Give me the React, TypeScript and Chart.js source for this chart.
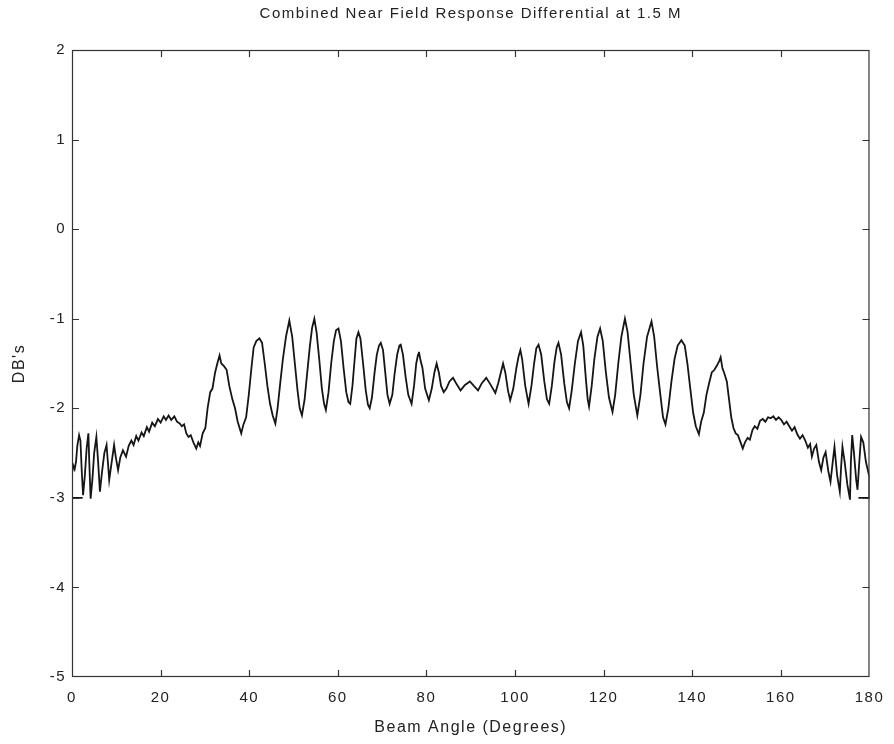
import { useEffect, useRef } from "react";
import { Chart, registerables } from "chart.js";

Chart.register(...registerables);

const chartTitle = "Combined Near Field Response Differential at 1.5 M";
const xAxisTitle = "Beam Angle (Degrees)";
const yAxisTitle = "DB's";

const xTickValues = [0, 20, 40, 60, 80, 100, 120, 140, 160, 180];
const yTickValues = [-5, -4, -3, -2, -1, 0, 1, 2];

// Beam angle (degrees), in drawing order of the trace
const beamAngle = [
  2.4, 0, 0, 0.3, 0.6, 0.9, 1.2, 1.6, 1.9, 2.2, 2.5, 2.9, 3.3, 3.7, 3.9, 4.2, 4.6, 5.0, 5.5, 5.9,
  6.3, 6.8, 7.3, 7.8, 8.1, 8.4, 8.9, 9.5, 9.9, 10.4, 10.9, 11.5, 11.8, 12.2, 12.8, 13.4, 13.9, 14.5, 15.0, 15.7,
  16.2, 16.9, 17.4, 18.1, 18.7, 19.4, 20.0, 20.7, 21.2, 21.8, 22.4, 23.1, 23.7, 24.3, 24.8, 25.3, 25.8, 26.3, 26.8, 27.4,
  28.05, 28.5, 28.9, 29.5, 30.1, 30.6, 31.2, 31.7, 32.3, 32.8, 33.3, 33.7, 34.3, 34.9, 35.5, 36.2, 36.8, 37.4, 38.2, 38.7,
  39.3, 39.9, 40.5, 41.0, 41.6, 42.3, 42.9, 43.5, 44.1, 44.7, 45.3, 45.9, 46.4, 47.0, 47.6, 48.3, 49.05, 49.7, 50.3, 50.9,
  51.4, 51.9, 52.5, 53.1, 53.7, 54.2, 54.7, 55.2, 55.8, 56.4, 56.9, 57.3, 57.9, 58.5, 59.1, 59.6, 60.15, 60.7, 61.3, 61.9,
  62.4, 62.8, 63.3, 63.8, 64.2, 64.65, 65.1, 65.7, 66.3, 66.8, 67.2, 67.7, 68.3, 68.8, 69.3, 69.7, 70.2, 70.7, 71.2, 71.7,
  72.3, 72.8, 73.4, 73.9, 74.2, 74.7, 75.3, 75.9, 76.65, 77.2, 77.7, 78.1, 78.3, 78.6, 79.1, 79.7, 80.55, 81.2, 81.8, 82.3,
  82.8, 83.3, 83.9, 84.5, 85.2, 86.0, 86.8, 87.7, 88.7, 89.8, 90.7, 91.65, 92.5, 93.5, 94.4, 95.55, 96.2, 96.8, 97.3, 97.8,
  98.4, 98.9, 99.6, 100.3, 100.8, 101.2, 101.6, 102.3, 103.05, 103.7, 104.3, 104.8, 105.3, 105.9, 106.6, 107.2, 107.7, 108.3, 108.9, 109.4,
  109.8, 110.4, 111.1, 111.7, 112.2, 112.8, 113.5, 114.2, 114.9, 115.4, 116.0, 116.4, 116.7, 117.3, 117.9, 118.6, 119.2, 119.8, 120.5, 121.2,
  122.0, 122.6, 123.3, 124.0, 124.8, 125.4, 126.1, 126.8, 127.6, 128.3, 129.0, 129.8, 130.8, 131.4, 132.1, 132.8, 133.4, 133.95, 134.6, 135.3,
  136.0, 136.7, 137.55, 138.3, 138.9, 139.6, 140.2, 140.8, 141.5, 142.0, 142.6, 143.2, 143.8, 144.4, 145.0, 145.6, 146.1, 146.4, 146.8, 147.3,
  147.8, 148.3, 148.8, 149.3, 149.8, 150.3, 150.9, 151.4, 151.9, 152.5, 153.0, 153.6, 154.1, 154.7, 155.3, 155.9, 156.5, 157.1, 157.7, 158.3,
  158.9, 159.5, 160.1, 160.7, 161.3, 161.9, 162.5, 163.1, 163.7, 164.3, 164.9, 165.5, 166.1, 166.6, 167.0, 167.5, 168.0, 168.6, 169.1, 169.6,
  170.1, 170.7, 171.2, 171.7, 172.1, 172.7, 173.3, 173.6, 173.9, 174.4, 175.0, 175.6, 175.8, 176.1, 176.5, 177.0, 177.3, 177.7, 178.1, 178.6,
  179.2, 180, 180, 177.5,
];

// Response differential (dB) at each angle above
const responseDb = [
  -3.0, -3.0, -2.72, -2.64, -2.68, -2.6, -2.42, -2.3, -2.36, -2.7, -2.97, -2.75, -2.45, -2.28, -2.6, -3.01, -2.8, -2.5, -2.32, -2.6,
  -2.93, -2.7, -2.5, -2.41, -2.6, -2.8, -2.62, -2.41, -2.55, -2.69, -2.55, -2.47, -2.5, -2.54, -2.42, -2.36, -2.41, -2.31, -2.36, -2.27,
  -2.31, -2.21, -2.26, -2.16, -2.2, -2.12, -2.16, -2.09, -2.13, -2.08, -2.13, -2.09, -2.15, -2.17, -2.2, -2.18, -2.28, -2.32, -2.3, -2.38,
  -2.45, -2.38, -2.42, -2.28, -2.22, -2.0, -1.82, -1.78, -1.6, -1.5, -1.41, -1.5, -1.53, -1.57, -1.75, -1.9, -2.0, -2.15, -2.28, -2.18,
  -2.1, -1.85, -1.55, -1.32, -1.25, -1.22, -1.27, -1.5, -1.75, -1.95, -2.08, -2.17, -2.0, -1.72, -1.45, -1.2, -1.02, -1.2, -1.5, -1.8,
  -2.0, -2.08, -1.9, -1.6, -1.3, -1.1, -1.0, -1.15, -1.45, -1.78, -1.95, -2.02, -1.82, -1.5, -1.25, -1.13, -1.11, -1.25, -1.55, -1.82,
  -1.93, -1.95, -1.75, -1.45, -1.22, -1.15, -1.22, -1.5, -1.8, -1.96, -2.0, -1.88, -1.6, -1.4, -1.3, -1.27, -1.35, -1.6, -1.85, -1.95,
  -1.85, -1.62, -1.4, -1.3, -1.29, -1.4, -1.65, -1.85, -1.95, -1.75, -1.5, -1.4, -1.37, -1.45, -1.55, -1.78, -1.91, -1.78, -1.6, -1.5,
  -1.6, -1.75, -1.82, -1.78, -1.7, -1.66, -1.73, -1.8, -1.74, -1.7, -1.75, -1.8, -1.72, -1.66, -1.73, -1.83, -1.72, -1.6, -1.5, -1.6,
  -1.8, -1.91, -1.78, -1.55, -1.42, -1.35, -1.45, -1.75, -1.95, -1.75, -1.5, -1.33, -1.29, -1.4, -1.7, -1.9, -1.95, -1.75, -1.48, -1.32,
  -1.27, -1.4, -1.72, -1.93, -2.0, -1.8, -1.5, -1.25, -1.15, -1.3, -1.68, -1.9, -1.98, -1.75, -1.45, -1.2, -1.11, -1.25, -1.6, -1.88,
  -2.04, -1.85, -1.5, -1.2, -1.0, -1.15, -1.5, -1.85, -2.08, -1.85, -1.5, -1.2, -1.03, -1.2, -1.55, -1.85, -2.1, -2.18, -2.0, -1.7,
  -1.45, -1.3, -1.24, -1.3, -1.5, -1.8, -2.05, -2.2, -2.29, -2.15, -2.05, -1.85, -1.72, -1.6, -1.57, -1.52, -1.47, -1.43, -1.55, -1.62,
  -1.7, -1.9, -2.1, -2.22, -2.28, -2.3, -2.38, -2.45, -2.38, -2.33, -2.35, -2.24, -2.2, -2.23, -2.14, -2.12, -2.15, -2.1, -2.11, -2.09,
  -2.13, -2.1, -2.13, -2.18, -2.15, -2.2, -2.25, -2.21, -2.29, -2.34, -2.3, -2.36, -2.44, -2.4, -2.54, -2.45, -2.41, -2.6, -2.69, -2.55,
  -2.49, -2.7, -2.82, -2.6, -2.43, -2.75, -2.93, -2.65, -2.43, -2.6, -2.85, -3.02, -2.6, -2.3, -2.5, -2.8, -2.91, -2.6, -2.32, -2.38,
  -2.6, -2.77, -3.0, -3.0,
];

const FONT = "'Liberation Sans', Arial, Helvetica, sans-serif";
const INK = "#222";

const framePlugin = {
  id: "matlabFrame",
  beforeDraw(chart: any) {
    chart.ctx.letterSpacing = "1.5px";
  },
  afterDatasetsDraw(chart: any) {
    const { ctx, chartArea, scales } = chart;
    const { left, right, top, bottom } = chartArea;
    const tick = 7;
    ctx.save();
    ctx.strokeStyle = "#333";
    ctx.lineWidth = 1.2;
    ctx.strokeRect(left + 0.5, top + 0.5, right - left - 1, bottom - top - 1);
    ctx.beginPath();
    for (const v of xTickValues) {
      const px = Math.round(scales.x.getPixelForValue(v)) + 0.5;
      if (px <= left + 1 || px >= right - 1) continue;
      ctx.moveTo(px, bottom);
      ctx.lineTo(px, bottom - tick);
      ctx.moveTo(px, top);
      ctx.lineTo(px, top + tick);
    }
    for (const v of yTickValues) {
      const py = Math.round(scales.y.getPixelForValue(v)) + 0.5;
      if (py <= top + 1 || py >= bottom - 1) continue;
      ctx.moveTo(left, py);
      ctx.lineTo(left + tick, py);
      ctx.moveTo(right, py);
      ctx.lineTo(right - tick, py);
    }
    ctx.stroke();
    ctx.restore();
  },
};

export default function App() {
  const canvasRef = useRef<HTMLCanvasElement | null>(null);

  useEffect(() => {
    const canvas = canvasRef.current;
    if (!canvas) return;
    const points = beamAngle.map((a, i) => ({ x: a, y: responseDb[i] }));
    const chart = new Chart(canvas, {
      type: "line",
      data: {
        datasets: [
          {
            data: points,
            borderColor: "#151515",
            borderWidth: 1.8,
            pointRadius: 0,
            tension: 0,
            fill: false,
          },
        ],
      },
      options: {
        animation: false,
        responsive: false,
        devicePixelRatio: 1,
        layout: { padding: { left: 0, right: 23, top: 0, bottom: 0 } },
        plugins: {
          legend: { display: false },
          tooltip: { enabled: false },
          title: {
            display: true,
            text: chartTitle,
            fullSize: false,
            color: INK,
            font: { family: FONT, size: 15, weight: "normal" },
            padding: { top: 5, bottom: 27 },
          },
        },
        scales: {
          x: {
            type: "linear",
            min: 0,
            max: 180,
            afterFit: (scale: any) => {
              scale.height = 67;
            },
            afterBuildTicks: (scale: any) => {
              scale.ticks = xTickValues.map((v) => ({ value: v }));
            },
            ticks: {
              color: INK,
              font: { family: FONT, size: 15 },
              padding: 12,
              maxRotation: 0,
              autoSkip: false,
            },
            grid: { display: false, drawTicks: false },
            border: { display: false },
            title: {
              display: true,
              text: xAxisTitle,
              color: INK,
              font: { family: FONT, size: 16 },
              padding: { top: 0, bottom: 6.5 },
            },
          },
          y: {
            type: "linear",
            min: -5,
            max: 2,
            afterFit: (scale: any) => {
              scale.width = 72;
            },
            afterBuildTicks: (scale: any) => {
              scale.ticks = yTickValues.map((v) => ({ value: v }));
            },
            ticks: {
              color: INK,
              font: { family: FONT, size: 15 },
              padding: 6,
              autoSkip: false,
            },
            grid: { display: false, drawTicks: false },
            border: { display: false },
            title: {
              display: true,
              text: yAxisTitle,
              color: INK,
              font: { family: FONT, size: 16 },
              padding: { top: 10, bottom: 0 },
            },
          },
        },
      },
      plugins: [framePlugin],
    });
    return () => chart.destroy();
  }, []);

  return (
    <div style={{ position: "fixed", left: 0, top: 0, width: 894, height: 744, background: "#fff" }}>
      <canvas ref={canvasRef} width={894} height={744} />
    </div>
  );
}
